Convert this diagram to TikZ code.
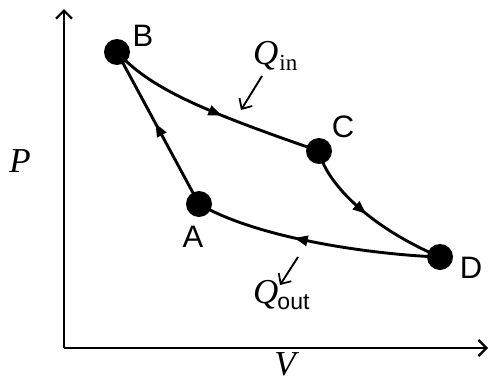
\documentclass[tikz,border=0pt]{standalone}
\usepackage{fontspec}
\setmainfont{Liberation Serif}
\setsansfont{Liberation Sans}
\usetikzlibrary{decorations.markings,arrows.meta}
\begin{document}
\begin{tikzpicture}[x=1pt,y=-1pt,
  dot/.style={circle,fill=black,inner sep=0pt,minimum size=26pt},
  lbl/.style={font=\sffamily\fontsize{31}{33}\selectfont,inner sep=0pt},
  sym/.style={font=\fontsize{35}{37}\selectfont\itshape,inner sep=0pt},
  proc/.style={line width=2.9pt,postaction={decorate},decoration={markings,
     mark=at position #1 with {\fill (5pt,0) -- (-8pt,5.5pt) -- (-8pt,-5.5pt) -- cycle;}}},
  axis/.style={line width=2.6pt,-{Straight Barb[length=8pt,width=16pt,line width=2.2pt]}},
  heat/.style={line width=1.9pt,-{Straight Barb[length=8pt,width=15pt,line width=1.8pt]}}]
\useasboundingbox (0,0) rectangle (490,383);
\fill[white] (0,0) rectangle (490,383);
% axes
\coordinate (O) at (64,348);
\coordinate (Ytop) at (64,9);
\coordinate (Xend) at (488,348);
\draw[axis] (O) -- (Ytop);
\draw[axis] (O) -- (Xend);
\node[sym,anchor=base] (P) at (20,172) {P};
\node[sym,anchor=base] (V) at (285,375) {V};
% states
\node[dot] (B) at (117,52) {};
\node[dot] (C) at (319,151) {};
\node[dot] (A) at (199,204) {};
\node[dot] (D) at (440,257) {};
\node[lbl] (lB) at (143,36) {B};
\node[lbl] (lC) at (343,127) {C};
\node[lbl] (lA) at (193,237) {A};
\node[lbl] (lD) at (471,268) {D};
% processes
\draw[proc=0.52] (B.center) .. controls (150,88) and (200,110) .. (C.center);
\draw[proc=0.45] (C.center) .. controls (325,180) and (365,225) .. (D.center);
\draw[proc=0.57] (D.center) .. controls (380,255) and (260,240) .. (A.center);
\draw[proc=0.5] (A.center) -- (B.center);
% heat labels
\node[inner sep=0pt,anchor=base west] (Qin) at (253,64) {\fontsize{35}{37}\selectfont\itshape Q\kern1pt\raisebox{-6pt}{\upshape\fontsize{23}{25}\selectfont in}};
\node[inner sep=0pt,anchor=base west] (Qout) at (253,303) {\fontsize{35}{37}\selectfont\itshape Q\kern-1pt\raisebox{-6pt}{\sffamily\upshape\fontsize{23}{25}\selectfont out}};
\coordinate (qi1) at (262,76);
\coordinate (qi2) at (241,110);
\coordinate (qo1) at (298,257);
\coordinate (qo2) at (280,285);
\draw[heat] (qi1) -- (qi2);
\draw[heat] (qo1) -- (qo2);
\end{tikzpicture}
\end{document}
